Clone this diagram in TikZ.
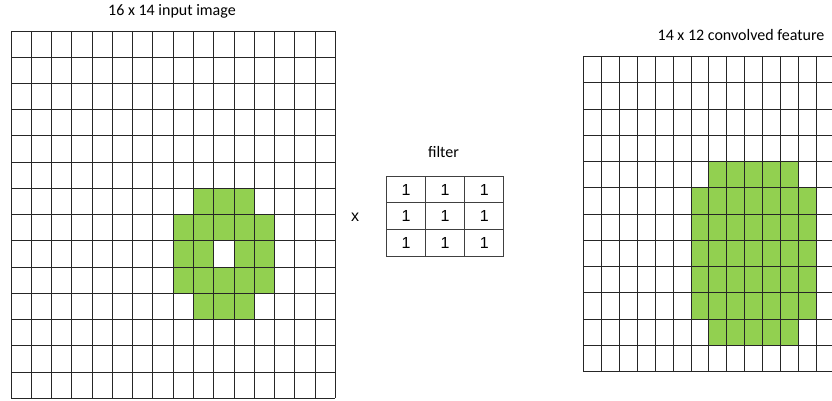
\documentclass[tikz,border=0pt]{standalone}
\usepackage{fontspec}
\setmainfont{Carlito}
\newfontfamily\arialf{Liberation Sans}
\definecolor{cellgreen}{HTML}{92D050}
\definecolor{gridcol}{HTML}{262626}
\definecolor{filtcol}{HTML}{404040}
\tikzset{
  gridline/.style={draw=gridcol, line width=0.95pt},
  greencell/.style={fill=cellgreen, draw=none},
  title/.style={font=\fontsize{16}{19}\selectfont, anchor=base, inner sep=0pt},
  fcell/.style={draw=filtcol, line width=0.95pt, minimum width=39.1pt, minimum height=26.67pt, inner sep=0pt, anchor=north west, font=\arialf\fontsize{16}{19}\selectfont},
}
\begin{document}
\begin{tikzpicture}[x=1pt, y=-1pt]
\useasboundingbox (0,0) rectangle (832,401);
\clip (0,0) rectangle (832,401);
% ---------- input image 16 x 14 ----------
\def\ax{11}\def\ay{31}\def\aw{20.28}\def\ah{26.24}
\foreach \r/\cols in {6/{9,10,11}, 7/{8,9,10,11,12}, 8/{8,9,11,12}, 9/{8,9,10,11,12}, 10/{9,10,11}}{
  \foreach \c in \cols {
    \fill[greencell] ({\ax+\c*\aw},{\ay+\r*\ah}) rectangle ++(\aw,\ah);
  }
}
\foreach \c in {0,...,16} \draw[gridline] ({\ax+\c*\aw},\ay) -- ({\ax+\c*\aw},{\ay+14*\ah});
\foreach \r in {0,...,14} \draw[gridline] (\ax,{\ay+\r*\ah}) -- ({\ax+16*\aw},{\ay+\r*\ah});
\node[title] (tin) at (172,15.5) {16 x 14 input image};
% ---------- output 14 x 12 ----------
\def\bx{583.3}\def\by{56.7}\def\bw{17.95}\def\bh{26.25}
\foreach \r/\cols in {4/{7,8,9,10,11}, 5/{6,...,12}, 6/{6,...,12}, 7/{6,...,12}, 8/{6,...,12}, 9/{6,...,12}, 10/{7,8,9,10,11}}{
  \foreach \c in \cols {
    \fill[greencell] ({\bx+\c*\bw},{\by+\r*\bh}) rectangle ++(\bw,\bh);
  }
}
\foreach \c in {0,...,14} \draw[gridline] ({\bx+\c*\bw},\by) -- ({\bx+\c*\bw},{\by+12*\bh});
\foreach \r in {0,...,12} \draw[gridline] (\bx,{\by+\r*\bh}) -- ({\bx+14*\bw},{\by+\r*\bh});
\node[title] (tout) at (741,41) {14 x 12 convolved feature};
% ---------- filter ----------
\node[title] (tfilt) at (443.5,157.5) {filter};
\node[font=\arialf\fontsize{16}{19}\selectfont, anchor=base, inner sep=0pt] (times) at (355,221.5) {x};
\foreach \r in {0,1,2}{
  \foreach \c in {0,1,2}{
    \node[fcell] (f\r\c) at ({386+\c*39.1},{175.7+\r*26.67}) {1};
  }
}
\end{tikzpicture}
\end{document}
